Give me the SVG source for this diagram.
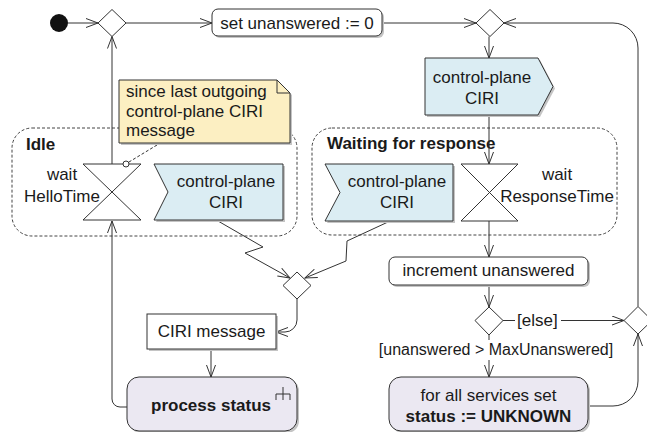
<svg xmlns="http://www.w3.org/2000/svg" width="647" height="432" viewBox="0 0 647 432">
<defs>
<style>
text{font-family:"Liberation Sans",Arial,sans-serif;font-size:17px;fill:#1a1a1a}
.b{font-weight:bold}
.m{text-anchor:middle}
.ln{fill:none;stroke:#333;stroke-width:1}
.shape{stroke:#333;stroke-width:1}
.sh{fill:#c4c4c4;stroke:none}
.act{fill:#fff}
.act2{fill:#ebe8f2}
.sig{fill:#dbedf3}
.note{fill:#fcefc2}
.reg{fill:none;stroke:#444;stroke-width:1;stroke-dasharray:3,2}
</style>
<marker id="a" viewBox="0 0 14 10" refX="13" refY="5" markerWidth="14" markerHeight="10" orient="auto" markerUnits="userSpaceOnUse">
<path d="M1,0.5 L13,5 L1,9.5" fill="none" stroke="#333" stroke-width="1"/>
</marker>
</defs>

<g id="regions">
<g id="idle"><rect class="reg" x="12" y="128" width="285" height="108" rx="20"/><text class="b" x="26" y="150">Idle</text></g>
<g id="waiting"><rect class="reg" x="312" y="128" width="305" height="107" rx="20"/><text class="b" x="327" y="149">Waiting for response</text></g>
</g>

<g id="connectors">
<path class="ln" d="M68,23 H98" marker-end="url(#a)"/>
<path class="ln" d="M126,23 H212" marker-end="url(#a)"/>
<path class="ln" d="M382,23 H476" marker-end="url(#a)"/>
<path class="ln" d="M638,306.5 V48 A25,25 0 0 0 613,23 H504" marker-end="url(#a)"/>
<path class="ln" d="M489,36.5 V58" marker-end="url(#a)"/>
<path class="ln" d="M489,115 V164" marker-end="url(#a)"/>
<path class="ln" d="M489,221 V257" marker-end="url(#a)"/>
<path class="ln" d="M489,285 V307" marker-end="url(#a)"/>
<path class="ln" d="M489,335 V377" marker-end="url(#a)"/>
<path class="ln" d="M503,320.5 H624" marker-end="url(#a)"/>
<path class="ln" d="M588,406 H613 A25,25 0 0 0 638,381 V334" marker-end="url(#a)"/>
<path class="ln" d="M112,164 V36.5" marker-end="url(#a)"/>
<path class="ln" d="M127,407 H120 A8,8 0 0 1 112,399 V221" marker-end="url(#a)"/>
<path class="ln" d="M218,221 L263,247 L245,253 L290,278" marker-end="url(#a)"/>
<path class="ln" d="M388,222 L347,241 L346,261 L305,278" marker-end="url(#a)"/>
<path class="ln" d="M297,299 V320 A12,12 0 0 1 285,332 H276" marker-end="url(#a)"/>
<path class="ln" d="M211,349 V377" marker-end="url(#a)"/>
<path class="ln" d="M157,145 L129,162" stroke-dasharray="3,2"/>
<rect x="515" y="308" width="46" height="22" fill="#fff"/>
<text x="517" y="326">[else]</text>
<rect x="378" y="340" width="238" height="20" fill="#fff"/>
<text class="m" x="496" y="355" style="font-size:16px">[unanswered &gt; MaxUnanswered]</text>
</g>

<g id="start"><circle cx="59" cy="23" r="9" fill="#111"/></g>

<g id="d1"><path class="shape" fill="#fff" d="M112,9.5 L126,23 L112,36.5 L98,23 Z"/></g>
<g id="d2"><path class="shape" fill="#fff" d="M490,9.5 L504,23 L490,36.5 L476,23 Z"/></g>
<g id="d3"><path class="shape" fill="#fff" d="M297,272 L311,285.5 L297,299 L283,285.5 Z"/></g>
<g id="d4"><path class="shape" fill="#fff" d="M638,306.5 L652,320.5 L638,334 L624,320.5 Z"/></g>
<g id="d5"><path class="shape" fill="#fff" d="M489,307 L503,320.5 L489,335 L475,320.5 Z"/></g>

<g id="set">
<rect class="sh" x="214" y="11" width="170" height="27" rx="6"/>
<rect class="shape act" x="212" y="9" width="170" height="27" rx="6"/>
<text class="m" x="297" y="29">set unanswered := 0</text>
</g>

<g id="send">
<path class="sh" d="M427,60 H540 L555,88.5 L540,117 H427 Z"/>
<path class="shape sig" d="M425,58 H538 L553,86.5 L538,115 H425 Z"/>
<text class="m" x="482" y="83">control-plane</text>
<text class="m" x="482" y="104">CIRI</text>
</g>

<g id="note">
<path class="sh" d="M121,82 H279 L292,95 V145 H121 Z"/>
<path class="shape note" d="M119,80 H277 L290,93 V143 H119 Z"/>
<path class="ln" d="M277,80 V93 H290"/>
<text x="126" y="97">since last outgoing</text>
<text x="126" y="117">control-plane CIRI</text>
<text x="126" y="136">message</text>
</g>

<g id="waitHello">
<path class="shape" fill="#fff" d="M83,164 H141 L83,220 H141 Z"/>
<circle cx="126" cy="164" r="3" fill="#fff" stroke="#333"/>
<text class="m" x="62" y="180">wait</text>
<text class="m" x="62" y="202">HelloTime</text>
</g>

<g id="recvIdle">
<path class="sh" d="M156,166 H285 V222 H156 L170,194 Z"/>
<path class="shape sig" d="M154,164 H283 V220 H154 L168,192 Z"/>
<text class="m" x="226" y="187">control-plane</text>
<text class="m" x="226" y="208">CIRI</text>
</g>

<g id="recvWait">
<path class="sh" d="M327,166 H455 V223 H327 L342,194.5 Z"/>
<path class="shape sig" d="M325,164 H453 V221 H325 L340,192.5 Z"/>
<text class="m" x="397" y="187">control-plane</text>
<text class="m" x="397" y="208">CIRI</text>
</g>

<g id="waitResp">
<path class="shape" fill="#fff" d="M461,164 H518 L461,221 H518 Z"/>
<text class="m" x="557" y="180">wait</text>
<text class="m" x="557" y="202">ResponseTime</text>
</g>

<g id="increment">
<rect class="sh" x="391" y="259" width="199" height="28" rx="6"/>
<rect class="shape act" x="389" y="257" width="199" height="28" rx="6"/>
<text class="m" x="488.5" y="276">increment unanswered</text>
</g>

<g id="ciri">
<rect class="sh" x="149" y="316" width="129" height="35"/>
<rect class="shape act" x="147" y="314" width="129" height="35"/>
<text class="m" x="211.5" y="337">CIRI message</text>
</g>

<g id="process">
<rect class="sh" x="129" y="379" width="170" height="54" rx="12"/>
<rect class="shape act2" x="127" y="377" width="170" height="54" rx="12"/>
<text class="m b" x="211" y="411">process status</text>
<path class="ln" d="M276,394 H290 M276,394 V400 M283,387 V400 M290,394 V400"/>
</g>

<g id="forall">
<rect class="sh" x="391" y="379" width="199" height="54" rx="12"/>
<rect class="shape act2" x="389" y="377" width="199" height="54" rx="12"/>
<text class="m" x="488.5" y="401">for all services set</text>
<text class="m b" x="488.5" y="422">status := UNKNOWN</text>
</g>
</svg>
